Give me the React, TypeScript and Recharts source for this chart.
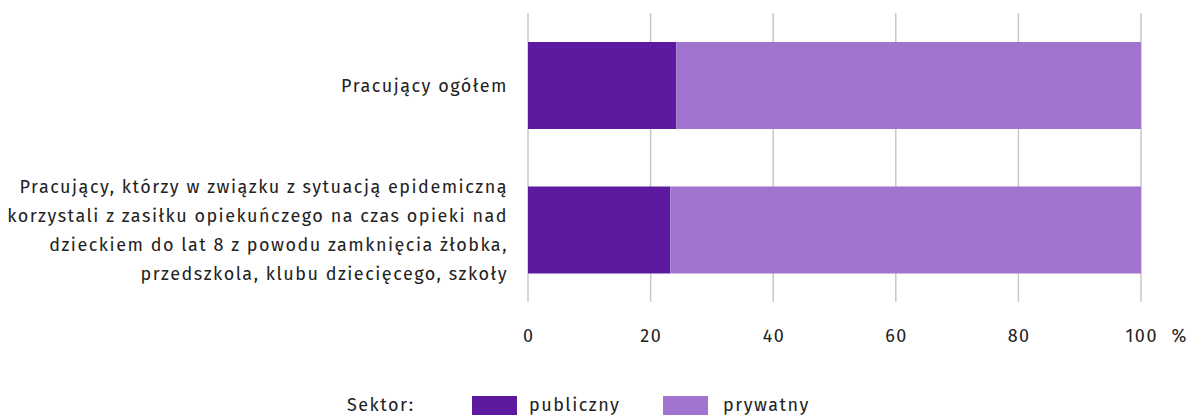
import React from 'react';
import { BarChart, Bar, XAxis, YAxis, CartesianGrid } from 'recharts';

const categories = [
  ['Pracujący ogółem'],
  [
    'Pracujący, którzy w związku z sytuacją epidemiczną',
    'korzystali z zasiłku opiekuńczego na czas opieki nad',
    'dzieckiem do lat 8 z powodu zamknięcia żłobka,',
    'przedszkola, klubu dziecięcego, szkoły',
  ],
];
const publiczny = [24.2, 23.2];
const prywatny = [75.8, 76.8];
const xTicks = [0, 20, 40, 60, 80, 100];

const seriesNames = { publiczny: 'publiczny', prywatny: 'prywatny' };
const colors = { publiczny: '#5d1aa0', prywatny: '#a175cf' };

const data = categories.map((lines, i) => ({
  name: lines.join(' '),
  lines,
  publiczny: publiczny[i],
  prywatny: prywatny[i],
}));

const FONT = "'Fira Sans', 'Noto Sans', sans-serif";
const TEXT = '#222222';
const FS = 18;
const LS = 1.5;

const CategoryTick = ({ x, y, payload, index }: any) => {
  const lines: string[] = data[index]?.lines ?? [payload.value];
  const lh = 29;
  const start = y - ((lines.length - 1) * lh) / 2;
  return (
    <text x={x} y={start} textAnchor="end" fill={TEXT} fontSize={FS} letterSpacing={LS} fontFamily={FONT}>
      {lines.map((l, i) => (
        <tspan key={i} x={x} y={start + i * lh} dy="0.35em">
          {l}
        </tspan>
      ))}
    </text>
  );
};

const ValueTick = ({ x, y, payload }: any) => (
  <g>
    <text x={x + LS / 2} y={y} textAnchor="middle" fill={TEXT} fontSize={FS} letterSpacing={LS} fontFamily={FONT} dy="0.35em">
      {payload.value}
    </text>
    {payload.value === 100 && (
      <text x={x + 38} y={y} textAnchor="middle" fill={TEXT} fontSize={FS} fontFamily={FONT} dy="0.35em">
        %
      </text>
    )}
  </g>
);

const LegendBox = () => (
  <div
    style={{
      position: 'absolute',
      left: 0,
      top: 394,
      width: 1192,
      height: 22,
      fontFamily: FONT,
      fontSize: FS,
      letterSpacing: LS,
      color: TEXT,
      lineHeight: '23px',
    }}
  >
    <span style={{ position: 'absolute', left: 347, top: 0 }}>Sektor:</span>
    <span style={{ position: 'absolute', left: 472, top: 2, width: 45, height: 19, background: colors.publiczny }} />
    <span style={{ position: 'absolute', left: 529, top: 0 }}>{seriesNames.publiczny}</span>
    <span style={{ position: 'absolute', left: 663, top: 2, width: 45, height: 19, background: colors.prywatny }} />
    <span style={{ position: 'absolute', left: 723, top: 0 }}>{seriesNames.prywatny}</span>
  </div>
);

export default function App() {
  return (
    <div style={{ position: 'absolute', left: 0, top: 0, width: 1192, height: 416, background: '#fff', overflow: 'hidden' }}>
      <BarChart
        width={1192}
        height={416}
        data={data}
        layout="vertical"
        barCategoryGap="20%"
        margin={{ top: 13, right: 51, left: 8, bottom: 74 }}
      >
        <CartesianGrid horizontal={false} stroke="#c8c8c8" strokeWidth={1.5} />
        <XAxis
          type="number"
          domain={[0, 100]}
          ticks={xTicks}
          axisLine={false}
          tickLine={false}
          tickSize={0}
          tickMargin={34}
          height={40}
          tick={<ValueTick />}
        />
        <YAxis
          type="category"
          dataKey="name"
          width={520}
          axisLine={false}
          tickLine={false}
          tickSize={0}
          tickMargin={20}
          tick={<CategoryTick />}
        />
        <Bar dataKey="publiczny" stackId="a" fill={colors.publiczny} isAnimationActive={false} />
        <Bar dataKey="prywatny" stackId="a" fill={colors.prywatny} isAnimationActive={false} />
      </BarChart>
      <LegendBox />
    </div>
  );
}
